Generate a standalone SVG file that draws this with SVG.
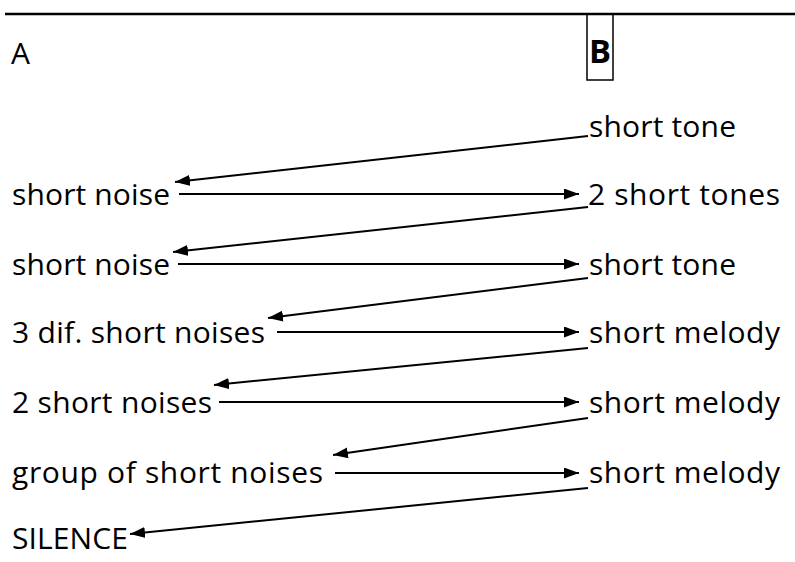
<svg xmlns="http://www.w3.org/2000/svg" width="795" height="562" viewBox="0 0 795 562">
<style>
text{font-family:"Open Sans","Noto Sans",sans-serif;font-size:30px;fill:#000}
.b{font-weight:bold;font-size:33px}
.ln{stroke:#000;stroke-width:2;fill:none}
</style>
<defs>
<marker id="ah" viewBox="0 0 15 11" refX="15" refY="5.5" markerWidth="15" markerHeight="11" markerUnits="userSpaceOnUse" orient="auto">
<path d="M0,0 L15,5.5 L0,11 Z" fill="#000"/>
</marker>
</defs>
<rect width="795" height="562" fill="#fff"/>
<line x1="5" y1="14" x2="795" y2="14" stroke="#000" stroke-width="2.5"/>
<g id="head-a"><text x="11" y="64">A</text></g>
<g id="head-b"><rect x="587" y="14" width="26" height="66" fill="none" stroke="#000" stroke-width="1.5"/><text class="b" x="589" y="63" textLength="22" lengthAdjust="spacingAndGlyphs">B</text></g>
<g id="b1"><text x="589" y="137" textLength="147" lengthAdjust="spacing">short tone</text></g>
<g id="a1"><text x="12" y="205" textLength="158" lengthAdjust="spacing">short noise</text></g>
<g id="b2"><text x="588" y="205" textLength="192" lengthAdjust="spacing">2 short tones</text></g>
<g id="a2"><text x="12" y="275" textLength="158" lengthAdjust="spacing">short noise</text></g>
<g id="b3"><text x="589" y="275" textLength="147" lengthAdjust="spacing">short tone</text></g>
<g id="a3"><text x="12" y="343" textLength="253" lengthAdjust="spacing">3 dif. short noises</text></g>
<g id="b4"><text x="589" y="343" textLength="191" lengthAdjust="spacing">short melody</text></g>
<g id="a4"><text x="12" y="413" textLength="200" lengthAdjust="spacing">2 short noises</text></g>
<g id="b5"><text x="589" y="413" textLength="191" lengthAdjust="spacing">short melody</text></g>
<g id="a5"><text x="12" y="483" textLength="311" lengthAdjust="spacing">group of short noises</text></g>
<g id="b6"><text x="589" y="483" textLength="191" lengthAdjust="spacing">short melody</text></g>
<g id="a6"><text x="12" y="549" textLength="116" lengthAdjust="spacing">SILENCE</text></g>
<g id="connectors" class="ln">
<line x1="588" y1="136" x2="175" y2="182" marker-end="url(#ah)"/>
<line x1="179" y1="194" x2="579" y2="194" marker-end="url(#ah)"/>
<line x1="588" y1="207" x2="173" y2="252" marker-end="url(#ah)"/>
<line x1="178" y1="264" x2="579" y2="264" marker-end="url(#ah)"/>
<line x1="588" y1="278" x2="268" y2="318" marker-end="url(#ah)"/>
<line x1="277" y1="332" x2="579" y2="332" marker-end="url(#ah)"/>
<line x1="588" y1="348" x2="214" y2="385" marker-end="url(#ah)"/>
<line x1="219" y1="402" x2="579" y2="402" marker-end="url(#ah)"/>
<line x1="588" y1="418" x2="333" y2="455" marker-end="url(#ah)"/>
<line x1="335" y1="473" x2="579" y2="473" marker-end="url(#ah)"/>
<line x1="588" y1="488" x2="130" y2="534" marker-end="url(#ah)"/>
</g>
</svg>
